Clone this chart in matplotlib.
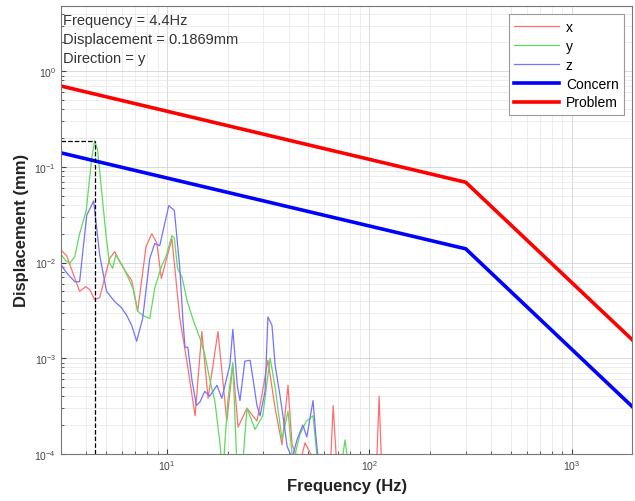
import matplotlib
matplotlib.use("Agg")
import matplotlib.pyplot as plt

plt.rcParams['font.family'] = ['Liberation Sans', 'DejaVu Sans']

# limit lines (frequency in Hz, displacement in mm)
limit_freq = [3, 300, 2000]
problem = [0.70, 0.069, 0.00155]
concern = [0.14, 0.0139, 0.00031]

x_freq = [3.02, 3.2, 3.44, 3.71, 3.98, 4.16, 4.40, 4.66, 5.22, 5.53, 5.85, 6.34,
          6.71, 7.18, 7.9, 8.43, 8.93, 9.40, 10.6, 11.6, 12.6, 13.8, 14.9, 16.0,
          17.9, 19.8, 21.2, 22.5, 24.9, 27.9, 29.5, 31.6, 34.3, 37.1, 39.7, 41.6,
          45.5, 48.2, 52.8, 60.6, 64.1, 66.4, 69.6, 80, 108, 112, 116]
x_disp = [0.0133, 0.0118, 0.0077, 0.0050, 0.0056, 0.0052, 0.0041, 0.0043, 0.011,
          0.013, 0.0102, 0.0077, 0.0065, 0.0031, 0.0147, 0.020, 0.016, 0.0068,
          0.0178, 0.0026, 0.0009, 0.00025, 0.0019, 0.00038, 0.0019, 0.00022,
          0.00085, 0.00019, 0.0003, 0.00022, 0.00041, 0.00095, 0.0003, 0.000124,
          0.00052, 0.000124, 0.00008, 0.00013, 0.00009, 0.00007, 0.00006, 0.00032,
          0.00006, 0.00005, 0.00005, 0.0004, 0.00005]

y_freq = [3.02, 3.16, 3.31, 3.51, 3.71, 4.0, 4.25, 4.40, 4.55, 4.75, 5.0, 5.2,
          5.4, 5.6, 6.0, 6.3, 6.8, 7.18, 7.6, 8.24, 8.72, 9.45, 9.9, 10.6, 10.9,
          11.3, 11.9, 12.6, 13.5, 14.6, 15.4, 16.3, 17.3, 18.3, 18.9, 20.0, 21.2,
          22.3, 23.5, 24.9, 27.3, 29.8, 32.4, 34.3, 37.1, 39.7, 42.0, 45.5, 49.0,
          52.8, 56.0, 71.8, 76.0, 80.0]
y_disp = [0.012, 0.0105, 0.0098, 0.0115, 0.02, 0.035, 0.12, 0.1869, 0.15, 0.06,
          0.02, 0.010, 0.0087, 0.012, 0.0095, 0.0077, 0.0054, 0.0031, 0.0028,
          0.0026, 0.0054, 0.0093, 0.0115, 0.0191, 0.018, 0.0087, 0.007, 0.004,
          0.0025, 0.0016, 0.0011, 0.0006, 0.00035, 0.00013, 0.00006, 0.00035,
          0.0009, 0.00006, 0.00006, 0.0003, 0.00018, 0.00025, 0.001, 0.0005,
          0.00014, 0.00028, 0.00008, 0.00016, 0.00022, 0.00025, 0.00007, 0.00006,
          0.00014, 0.00006]

z_freq = [3.02, 3.2, 3.51, 3.71, 4.02, 4.35, 4.66, 5.04, 5.53, 5.95, 6.34, 6.71,
          7.10, 7.60, 8.24, 8.72, 9.23, 10.23, 10.9, 11.6, 12.0, 12.3, 12.7, 13.3,
          14.0, 14.6, 15.4, 16.3, 17.7, 18.7, 20.5, 21.2, 22.3, 23.0, 24.3, 25.8,
          26.7, 27.9, 28.9, 30.6, 31.6, 33.1, 34.3, 36.3, 37.5, 39.3, 41.6, 44.0,
          47.0, 49.2, 52.8, 54.6, 57.0]
z_disp = [0.0093, 0.0078, 0.0063, 0.0063, 0.031, 0.044, 0.012, 0.005, 0.0039,
          0.0034, 0.0028, 0.0022, 0.0015, 0.0026, 0.011, 0.0158, 0.0150, 0.0393,
          0.035, 0.0087, 0.0026, 0.0013, 0.0013, 0.0006, 0.00032, 0.00035,
          0.00045, 0.00040, 0.00052, 0.00038, 0.00085, 0.0020, 0.00052, 0.00036,
          0.00093, 0.00095, 0.0006, 0.00032, 0.00025, 0.00045, 0.0027, 0.0022,
          0.00085, 0.0004, 0.00025, 0.00012, 0.00009, 0.00014, 0.0002, 0.00015,
          0.00036, 0.00015, 0.00006]

peak_freq = 4.4
peak_disp = 0.1869
x_min, x_max = 3, 2000
y_min, y_max = 1e-4, 4.8

fig = plt.figure(figsize=(6.35, 5.02), dpi=100)
ax = fig.add_axes([0.096, 0.094, 0.9, 0.892])

ax.plot(x_freq, x_disp, color='#ff6f6f', linewidth=0.9, label='x')
ax.plot(y_freq, y_disp, color='#5edc5e', linewidth=0.9, label='y')
ax.plot(z_freq, z_disp, color='#7373ff', linewidth=0.9, label='z')
ax.plot(limit_freq, concern, color='#0000ff', linewidth=2.6, label='Concern')
ax.plot(limit_freq, problem, color='#ff0000', linewidth=2.6, label='Problem')

# marker for the peak
ax.plot([peak_freq, peak_freq], [y_min, peak_disp], color='black',
        linestyle='--', linewidth=0.9)
ax.plot([x_min, peak_freq], [peak_disp, peak_disp], color='black',
        linestyle='--', linewidth=0.9)

ax.set_xscale('log')
ax.set_yscale('log')
ax.set_xlim(x_min, x_max)
ax.set_ylim(y_min, y_max)

ax.grid(True, which='major', color='#d4d4d4', linewidth=0.6)
ax.grid(True, which='minor', color='#e6e6e6', linewidth=0.5)
ax.tick_params(which='both', direction='in', labelsize=7.5, colors='#444444')
for s in ax.spines.values():
    s.set_color('#777777')

ax.set_xlabel('Frequency (Hz)', fontsize=12, fontweight='bold', color='#222222')
ax.set_ylabel('Displacement (mm)', fontsize=12, fontweight='bold', color='#222222')

ax.text(0.003, 0.985, 'Frequency = 4.4Hz\nDisplacement = 0.1869mm\nDirection = y',
        transform=ax.transAxes, ha='left', va='top', fontsize=10.5,
        color='#333333', linespacing=1.45)

leg = ax.legend(loc='upper right', fontsize=10, handlelength=3.2,
                fancybox=False, framealpha=1, borderaxespad=0.6,
                labelspacing=0.35, handletextpad=0.5)
leg.get_frame().set_edgecolor('#999999')
leg.get_frame().set_linewidth(0.8)

fig.savefig('out.png', dpi=100)
